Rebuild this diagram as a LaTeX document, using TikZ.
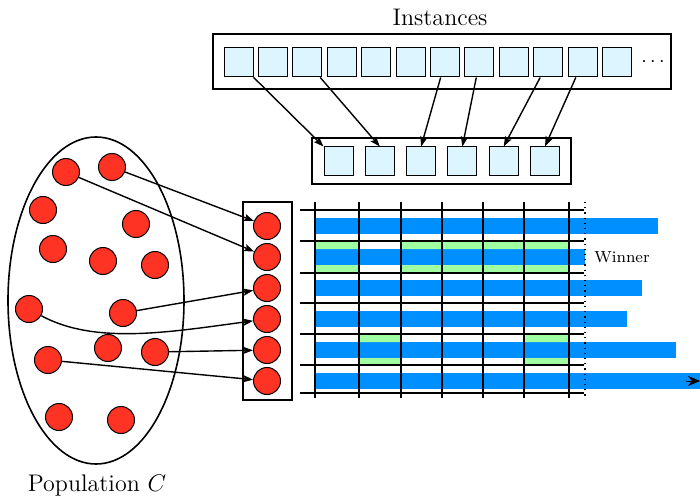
\documentclass[tikz,border=0pt]{standalone}
\usetikzlibrary{arrows.meta,shapes.geometric}
\definecolor{sqblue}{RGB}{220,245,255}
\definecolor{dotred}{RGB}{255,51,36}
\definecolor{barblue}{RGB}{0,143,255}
\definecolor{bargreen}{RGB}{160,255,160}
\tikzset{
  sq/.style={draw=black, fill=sqblue, minimum size=14.5pt, inner sep=0pt, line width=0.5pt},
  dot/.style={circle, draw=black, fill=dotred, minimum size=13.5pt, inner sep=0pt, line width=0.5pt},
  arr/.style={-{Stealth[length=5pt,width=3.6pt,inset=1pt]}, line width=0.7pt},
  frame/.style={draw=black, line width=0.8pt},
  grid/.style={line width=0.6pt},
}
\begin{document}
\begin{tikzpicture}[x=0.5pt,y=-0.5pt]
\useasboundingbox (0,0) rectangle (700,497);
% Instances
\node[font=\large] (inst) at (440,17) {Instances};
\node[frame, minimum width=229pt, minimum height=27.5pt, inner sep=0pt] (topbox) at (442,61.5) {};
\foreach \i in {1,...,12} {
  \node[sq] (t\i) at ({238.5+34.4*(\i-1)},62.5) {};
}
\node (tdots) at (653,62) {$\cdots$};
% middle box
\node[frame, minimum width=129.5pt, minimum height=23pt, inner sep=0pt] (midbox) at (441.5,161) {};
\foreach \i in {1,...,6} {
  \node[sq] (m\i) at ({338.5+41.3*(\i-1)},161.5) {};
}
\draw[arr] (t1) -- (m1.north west);
\draw[arr] (t3) -- (m2.north);
\draw[arr] (t7) -- (m3.north);
\draw[arr] (t8) -- (m4.north);
\draw[arr] (t10) -- (m5.north);
\draw[arr] (t11) -- (m6.north);
% Population
\node[draw, ellipse, line width=0.8pt, minimum width=88pt, minimum height=163.5pt, inner sep=0pt] (pop) at (96,300.5) {};
\node[font=\large] (poplabel) at (97,485) {Population $C$};
\node[dot] (c1) at (66,172) {};
\node[dot] (c2) at (112,167) {};
\node[dot] (c3) at (43,210) {};
\node[dot] (c4) at (136,224) {};
\node[dot] (c5) at (53,249) {};
\node[dot] (c6) at (103,261) {};
\node[dot] (c7) at (155,265) {};
\node[dot] (c8) at (29,309) {};
\node[dot] (c9) at (123,313) {};
\node[dot] (c10) at (108,348) {};
\node[dot] (c11) at (155,352) {};
\node[dot] (c12) at (48,360) {};
\node[dot] (c13) at (59,417) {};
\node[dot] (c14) at (121,420) {};
% selected
\node[frame, minimum width=24.5pt, minimum height=99pt, inner sep=0pt] (selbox) at (267.5,301) {};
\foreach \i/\y in {1/226,2/257,3/288,4/319,5/350,6/381} {
  \node[dot] (r\i) at (267,\y) {};
}
\draw[arr] (c2) -- (r1);
\draw[arr] (c1) -- (r2);
\draw[arr] (c9) -- (r3);
\draw[arr] (c8) .. controls (95,345) and (170,332) .. (r4);
\draw[arr] (c11) -- (r5);
\draw[arr] (c12) -- (r6);
% bars
\fill[barblue] (315,218) rectangle (658,234);
\fill[barblue] (315,249) rectangle (585,265);
\fill[barblue] (315,280) rectangle (642,296);
\fill[barblue] (315,311) rectangle (627,327);
\fill[barblue] (315,342) rectangle (676,358);
\fill[barblue] (315,373) rectangle (700,389);
\fill[bargreen] (315,242) rectangle (359,249) (315,265) rectangle (359,272);
\fill[bargreen] (401,242) rectangle (569,249) (401,265) rectangle (569,272);
\fill[bargreen] (359,335) rectangle (401,342) (359,358) rectangle (401,365);
\fill[bargreen] (525,335) rectangle (569,342) (525,358) rectangle (569,365);
% grid
\foreach \y in {210,241,273,303,334,365,393} {
  \draw[grid] (300,\y) -- (584,\y);
}
\foreach \x in {315,359,401,442,483,524,569} {
  \draw[grid] (\x,202) -- (\x,398);
}
\draw[grid, dotted, line width=0.8pt] (585,202) -- (585,398);
\node[font=\footnotesize] (win) at (622,257) {Winner};
\coordinate (ta) at (686,381);
\coordinate (tb) at (700,381);
\draw[-{Stealth[length=6pt,width=5pt]}, line width=0.3pt] (ta) -- (tb);
\end{tikzpicture}
\end{document}
